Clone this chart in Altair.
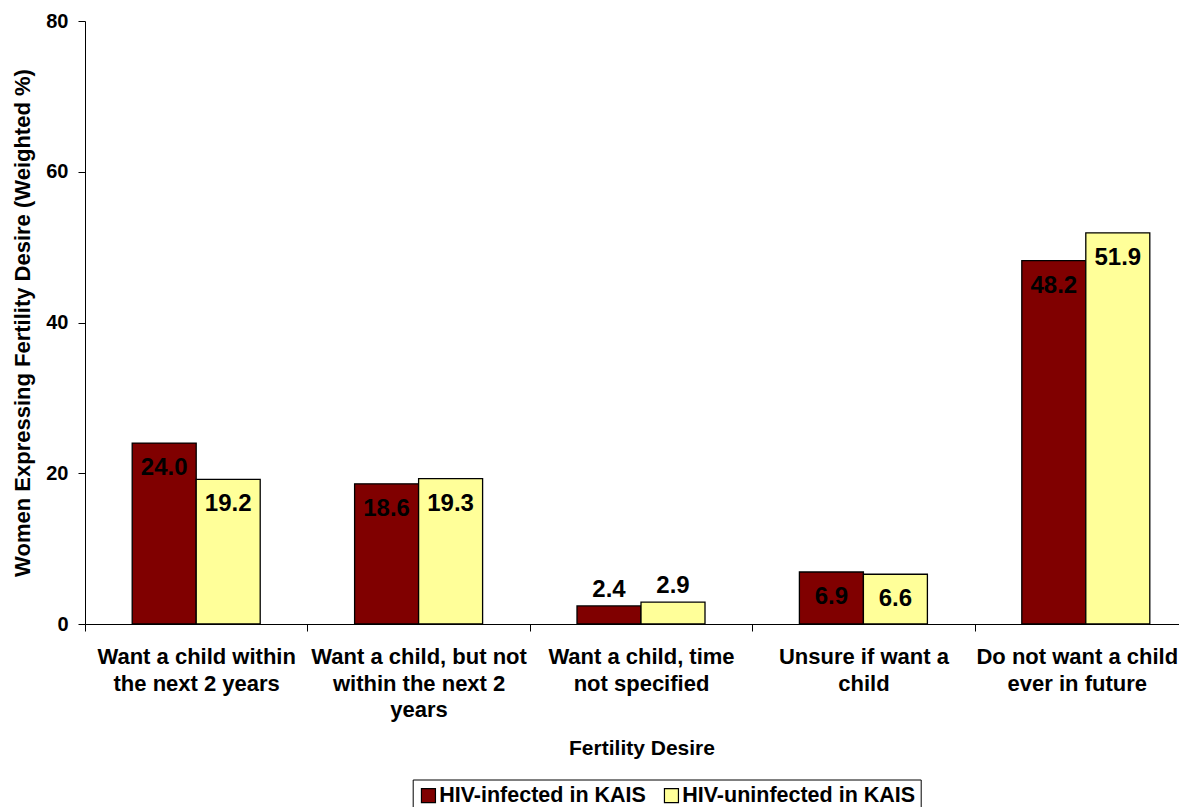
import altair as alt
import pandas as pd

# Category labels; "|" marks the line breaks used in the axis labels
categories = [
    "Want a child within|the next 2 years",
    "Want a child, but not|within the next 2|years",
    "Want a child, time|not specified",
    "Unsure if want a|child",
    "Do not want a child|ever in future",
]
series = ["HIV-infected in KAIS", "HIV-uninfected in KAIS"]
infected = [24.0, 18.6, 2.4, 6.9, 48.2]
uninfected = [19.2, 19.3, 2.9, 6.6, 51.9]
colors = ["#800000", "#FFFF99"]
y_ticks = [0, 20, 40, 60, 80]

rows = []
for c, a, b in zip(categories, infected, uninfected):
    rows.append({"category": c, "series": series[0], "value": a})
    rows.append({"category": c, "series": series[1], "value": b})
df = pd.DataFrame(rows)

FONT = "Liberation Sans"

x_enc = alt.X(
    "category:N",
    sort=categories,
    scale=alt.Scale(range=[0, 1112], paddingInner=0, paddingOuter=0),
    axis=alt.Axis(
        title="Fertility Desire",
        labelAngle=0,
        labelExpr="split(datum.label, '|')",
        labelFont=FONT,
        labelFontSize=22,
        labelFontWeight="bold",
        labelColor="black",
        labelLineHeight=26.5,
        labelPadding=15.5,
        labelLimit=400,
        labelBaseline="top",
        labelOffset={
            "condition": {"test": "datum.value == '" + categories[-1] + "'", "value": -9},
            "value": 0,
        },
        tickBand="extent",
        tickSize=7,
        tickColor="black",
        domainColor="black",
        domainWidth=1,
        titleFont=FONT,
        titleFontSize=21,
        titleFontWeight="bold",
        titleColor="black",
        titleX=556.5,
        titleY=124,
        titleBaseline="middle",
        titleAlign="center",
    ),
)

y_enc = alt.Y(
    "value:Q",
    scale=alt.Scale(domain=[0, 80], nice=False),
    axis=alt.Axis(
        title="Women Expressing Fertility Desire (Weighted %)",
        values=y_ticks,
        grid=False,
        labelFont=FONT,
        labelFontSize=20,
        labelFontWeight="bold",
        labelColor="black",
        labelPadding=10,
        tickSize=7,
        tickColor="black",
        domainColor="black",
        domainWidth=1,
        titleFont=FONT,
        titleFontSize=22,
        titleFontWeight="bold",
        titleColor="black",
        titleX=-63,
        titleY=301.5,
        titleBaseline="middle",
        titleAlign="center",
        titleAngle=270,
    ),
)

xoff = alt.XOffset(
    "series:N",
    sort=series,
    scale=alt.Scale(domain=series, paddingInner=0, paddingOuter=0.7375),
)

base = alt.Chart(df).encode(x=x_enc, xOffset=xoff, y=y_enc)

bars = base.mark_bar(stroke="black", strokeWidth=1.3).encode(
    color=alt.Color(
        "series:N",
        sort=series,
        scale=alt.Scale(domain=series, range=colors),
        legend=alt.Legend(
            title=None,
            orient="none",
            legendX=327.7,
            legendY=758.5,
            direction="horizontal",
            strokeColor="black",
            fillColor="white",
            padding=5,
            symbolType="square",
            symbolSize=196,
            symbolStrokeColor="black",
            symbolStrokeWidth=1.2,
            symbolOpacity=1,
            labelFont=FONT,
            labelFontSize=21.5,
            labelFontWeight="bold",
            labelColor="black",
            labelOffset=0,
            columnPadding=14,
            labelLimit=400,
        ),
    )
)

label_style = dict(font=FONT, fontSize=24, fontWeight="bold", color="black",
                   baseline="middle", align="center")

inside = base.transform_filter(alt.datum.value >= 5).mark_text(dy=25, **label_style).encode(
    text=alt.Text("value:Q", format=".1f")
)
outside = base.transform_filter(alt.datum.value < 5).mark_text(dy=-16, **label_style).encode(
    text=alt.Text("value:Q", format=".1f")
)

chart = (
    alt.layer(bars, inside, outside)
    .properties(
        width=1094,
        height=603,
        autosize=alt.AutoSizeParams(type="none"),
        padding={"left": 77, "top": 13, "right": 0, "bottom": 183},
        background="white",
    )
    .configure_view(stroke=None)
)

chart.save("out.html", embed_options={"renderer": "svg", "actions": False})
